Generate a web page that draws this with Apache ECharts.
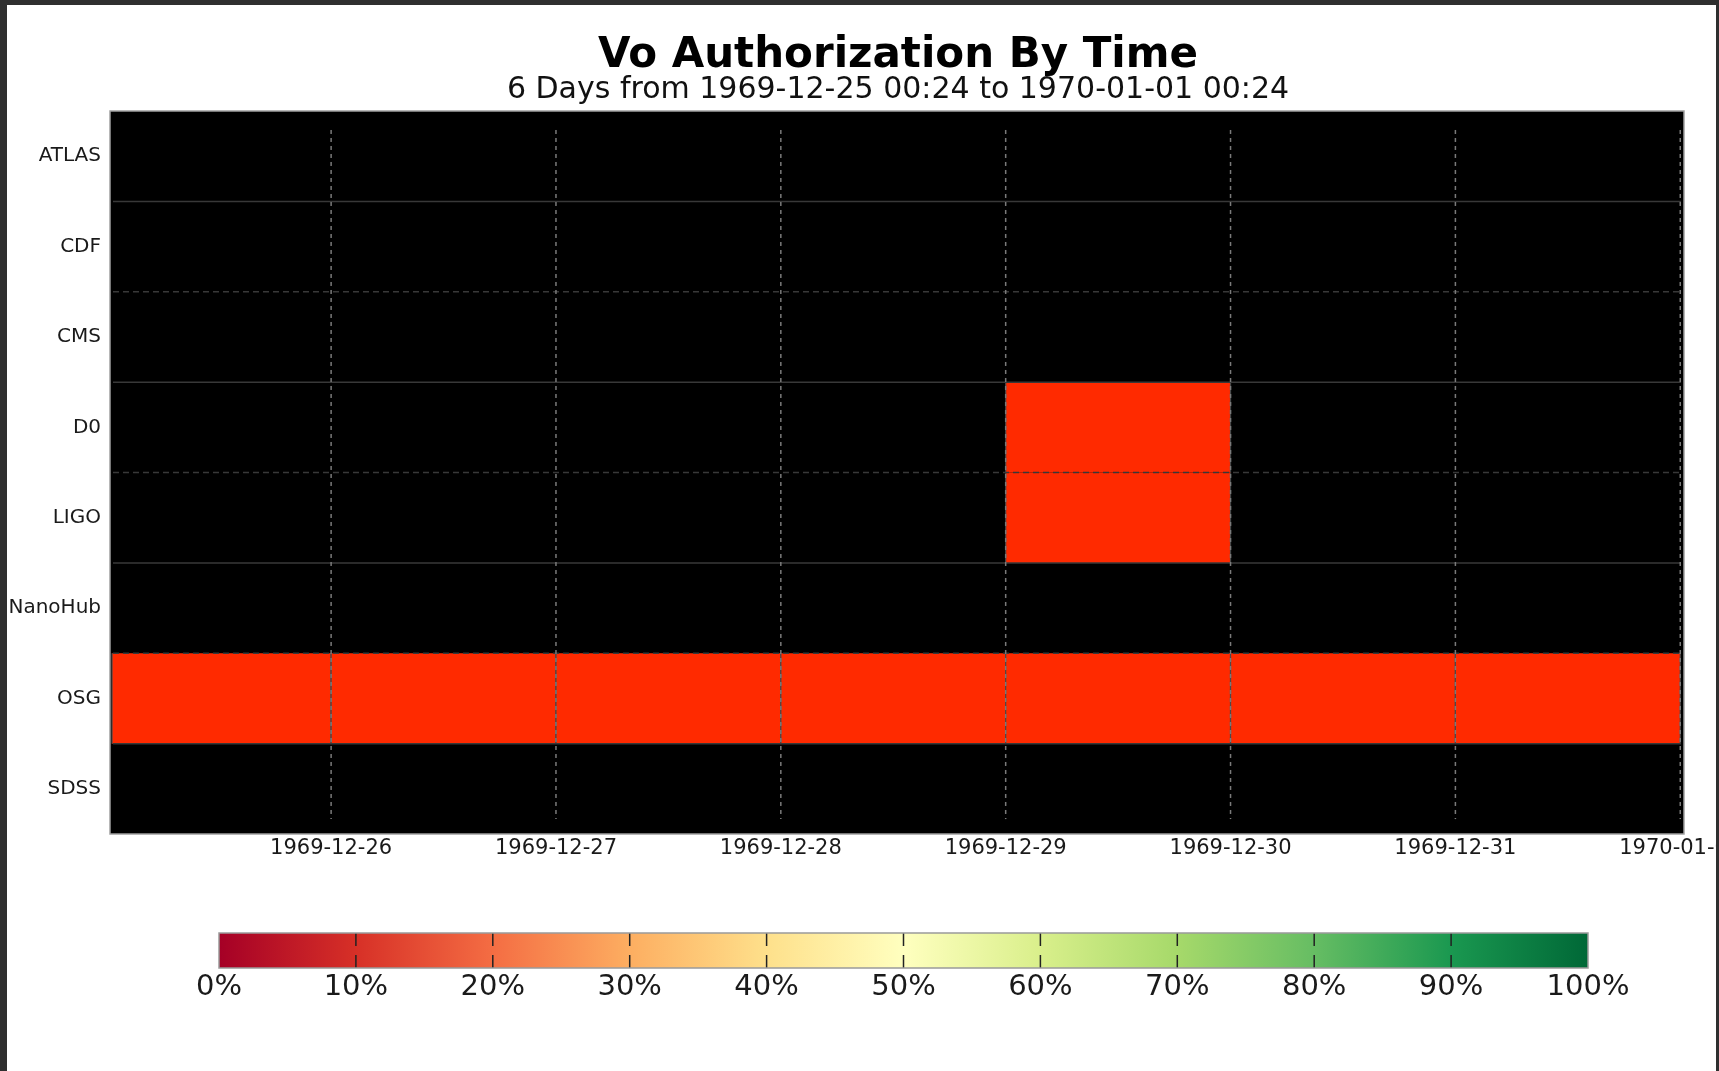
<!DOCTYPE html>
<html>
<head>
<meta charset="utf-8">
<title>Vo Authorization By Time</title>
<script src="https://cdn.jsdelivr.net/npm/echarts@6/dist/echarts.min.js"></script>
<style>
	html, body { margin: 0; padding: 0; background: #2f2f2f; overflow: hidden; }
	#main { position: absolute; left: 7px; top: 5px; width: 1709px; height: 1066px; background: #fff; }
</style>
</head>
<body>
<div id="main"></div>
<script>
var titleText = 'Vo Authorization By Time';
var subText = '6 Days from 1969-12-25 00:24 to 1970-01-01 00:24';

var voNames = ['ATLAS', 'CDF', 'CMS', 'D0', 'LIGO', 'NanoHub', 'OSG', 'SDSS'];
var dayTicks = ['1969-12-26', '1969-12-27', '1969-12-28', '1969-12-29', '1969-12-30', '1969-12-31', '1970-01-01'];
var rangeStart = '1969-12-25T00:24:00Z';
var rangeEnd = '1970-01-01T00:24:00Z';

// one cell per (vo, day) that has data
var cellVo = ['OSG', 'OSG', 'OSG', 'OSG', 'OSG', 'OSG', 'OSG', 'D0', 'LIGO'];
var cellDay = ['1969-12-25', '1969-12-26', '1969-12-27', '1969-12-28', '1969-12-29', '1969-12-30', '1969-12-31', '1969-12-29', '1969-12-29'];

// colour bar (RdYlGn)
var cbTicks = [0, 10, 20, 30, 40, 50, 60, 70, 80, 90, 100];
var cbColors = ['#a50026', '#d73027', '#f46d43', '#fdae61', '#fee08b', '#ffffbf', '#d9ef8b', '#a6d96a', '#66bd63', '#1a9850', '#006837'];

var DAY = 86400000;
var FONT = 'DejaVu Sans';

function utc(s) {
	return Date.parse(s.length == 10 ? s + 'T00:00:00Z' : s);
}

var cells = cellVo.map(function(vo, i) {
	var t = utc(cellDay[i]);
	return [t, t + DAY, voNames.indexOf(vo)];
});

function renderCell(params, api) {
	var p0 = api.coord([api.value(0), api.value(2)]);
	var p1 = api.coord([api.value(1), api.value(2)]);
	var h = api.size([0, 1])[1];
	var cs = params.coordSys;
	var shape = echarts.graphic.clipRectByRect({
		x: p0[0], y: p0[1] - h / 2, width: p1[0] - p0[0], height: h
	}, { x: cs.x + 2, y: cs.y, width: cs.width - 4, height: cs.height });
	if (!shape) return;
	return {
		type: 'group',
		children: [{
			type: 'rect',
			shape: shape,
			style: { fill: '#ff2a00' }
		}, {
			// day edges of the cell
			type: 'line',
			shape: { x1: shape.x, y1: shape.y, x2: shape.x, y2: shape.y + shape.height },
			style: { stroke: '#4a4a4a', lineWidth: 1.2 }
		}, {
			type: 'line',
			shape: { x1: shape.x + shape.width, y1: shape.y, x2: shape.x + shape.width, y2: shape.y + shape.height },
			style: { stroke: '#4a4a4a', lineWidth: 1.2 }
		}]
	};
}

function renderDayLine(params, api) {
	var h = api.size([0, 1])[1];
	var top = api.coord([api.value(0), 0]);
	var bot = api.coord([api.value(0), voNames.length - 1]);
	return {
		type: 'line',
		shape: { x1: top[0], y1: top[1] - h * 0.29, x2: top[0], y2: bot[1] + h * 0.335 },
		style: { stroke: '#7a7a7a', lineWidth: 1.5, lineDash: [4, 4] }
	};
}

function renderRowLine(params, api) {
	var h = api.size([0, 1])[1];
	var idx = api.value(1);
	var a = api.coord([utc(rangeStart), idx]);
	var b = api.coord([utc(rangeEnd), idx]);
	var y = a[1] + h / 2;
	return {
		type: 'line',
		shape: { x1: a[0] + 3, y1: y, x2: b[0] - 3, y2: y },
		style: {
			stroke: '#383838',
			lineWidth: 1.5,
			lineDash: idx % 2 == 0 ? null : [6, 4]
		}
	};
}

function renderColorBar(params, api) {
	var a = api.coord([cbTicks[0], 1]);
	var b = api.coord([cbTicks[cbTicks.length - 1], 0]);
	var stops = cbColors.map(function(c, i) {
		return { offset: i / (cbColors.length - 1), color: c };
	});
	var children = [{
		type: 'rect',
		shape: { x: a[0], y: a[1], width: b[0] - a[0], height: b[1] - a[1] },
		style: { fill: new echarts.graphic.LinearGradient(0, 0, 1, 0, stops) }
	}];
	cbTicks.slice(1, -1).forEach(function(t) {
		var x = api.coord([t, 0])[0];
		children.push({
			type: 'line',
			shape: { x1: x, y1: a[1], x2: x, y2: b[1] },
			style: { stroke: '#222', lineWidth: 1.5, lineDash: [13, 9] }
		});
	});
	children.push({
		type: 'rect',
		shape: { x: a[0], y: a[1], width: b[0] - a[0], height: b[1] - a[1] },
		style: { fill: null, stroke: '#9a9a9a', lineWidth: 1.5 }
	});
	return { type: 'group', children: children };
}

var chart = echarts.init(document.getElementById('main'));

var option = {
	useUTC: true,
	animation: false,
	backgroundColor: '#fff',
	textStyle: { fontFamily: FONT },
	graphic: [{
		type: 'text',
		x: 891,
		y: 51,
		style: {
			text: titleText,
			font: 'bold 42px "DejaVu Sans"',
			fill: '#000',
			align: 'center',
			verticalAlign: 'middle'
		}
	}, {
		type: 'text',
		x: 891,
		y: 85,
		style: {
			text: subText,
			font: '30px "DejaVu Sans"',
			fill: '#111',
			align: 'center',
			verticalAlign: 'middle'
		}
	}],
	grid: [{
		left: 103,
		right: 32,
		top: 106,
		height: 723,
		outerBoundsMode: 'none',
		show: true,
		backgroundColor: '#000',
		borderColor: '#a0a0a0',
		borderWidth: 1.5
	}, {
		left: 212,
		right: 128,
		top: 928,
		height: 35,
		outerBoundsMode: 'none'
	}],
	xAxis: [{
		type: 'time',
		gridIndex: 0,
		min: utc(rangeStart),
		max: utc(rangeEnd),
		minInterval: DAY,
		maxInterval: DAY,
		axisLine: { show: false },
		axisTick: { show: false },
		splitLine: { show: false },
		axisLabel: {
			fontSize: 21,
			color: '#1a1a1a',
			margin: 4,
			hideOverlap: false,
			formatter: function(v) {
				if (v % DAY !== 0) return '';
				return new Date(v).toISOString().slice(0, 10);
			}
		}
	}, {
		type: 'value',
		gridIndex: 1,
		min: 0,
		max: 100,
		interval: 10,
		axisLine: { show: false },
		axisTick: { show: false },
		splitLine: { show: false },
		axisLabel: {
			fontSize: 29,
			color: '#1a1a1a',
			margin: 5,
			formatter: '{value}%'
		}
	}],
	yAxis: [{
		type: 'category',
		gridIndex: 0,
		data: voNames,
		inverse: true,
		axisLine: { show: false },
		axisTick: { show: false },
		splitLine: { show: false },
		axisLabel: { fontSize: 20, color: '#1a1a1a', margin: 9 }
	}, {
		type: 'value',
		gridIndex: 1,
		min: 0,
		max: 1,
		show: false
	}],
	series: [{
		name: 'cells',
		type: 'custom',
		xAxisIndex: 0,
		yAxisIndex: 0,
		renderItem: renderCell,
		encode: { x: [0, 1], y: 2 },
		data: cells,
		z: 2
	}, {
		name: 'rows',
		type: 'custom',
		xAxisIndex: 0,
		yAxisIndex: 0,
		renderItem: renderRowLine,
		encode: { x: 0, y: 1 },
		data: voNames.slice(0, -1).map(function(v, i) { return [utc(rangeStart), i]; }),
		z: 3,
		silent: true
	}, {
		name: 'days',
		type: 'custom',
		xAxisIndex: 0,
		yAxisIndex: 0,
		renderItem: renderDayLine,
		encode: { x: 0, y: 1 },
		data: dayTicks.map(function(d) { return [utc(d), 0]; }),
		z: 4,
		silent: true
	}, {
		name: 'colorbar',
		type: 'custom',
		xAxisIndex: 1,
		yAxisIndex: 1,
		renderItem: renderColorBar,
		encode: { x: 0, y: 1 },
		data: [[cbTicks[0], 0]],
		silent: true
	}]
};

chart.setOption(option);
</script>
</body>
</html>
